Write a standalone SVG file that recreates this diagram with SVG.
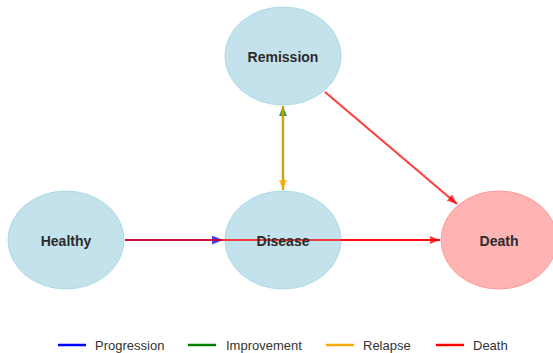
<svg xmlns="http://www.w3.org/2000/svg" width="553" height="353" viewBox="0 0 553 353">
  <style>
    .state { fill: #c4e2ec; stroke: #add8e6; stroke-width: 1; }
    .absorbing { fill: #ffb3b3; stroke: #ff9999; stroke-width: 1; }
    .label { font-family: "Liberation Sans", Arial, sans-serif; font-size: 14px; font-weight: bold; fill: #2b2b2b; text-anchor: middle; dominant-baseline: central; }
    .edge { fill: none; stroke-width: 2.2; stroke-opacity: 0.75; }
    .legend-text { font-family: "Liberation Sans", Arial, sans-serif; font-size: 13px; fill: #333333; dominant-baseline: central; }
    .legend-line { stroke-width: 2.5; }
  </style>
  <defs>
    <marker id="head-blue" viewBox="0 0 10 8" refX="10" refY="4" markerWidth="11" markerHeight="9" markerUnits="userSpaceOnUse" orient="auto">
      <path d="M0,0 L10,4 L0,8 Z" fill="#0000ff" fill-opacity="0.75"/>
    </marker>
    <marker id="head-green" viewBox="0 0 10 8" refX="10" refY="4" markerWidth="10" markerHeight="8" markerUnits="userSpaceOnUse" orient="auto">
      <path d="M0,0 L10,4 L0,8 Z" fill="#008000" fill-opacity="0.75"/>
    </marker>
    <marker id="head-orange" viewBox="0 0 10 8" refX="10" refY="4" markerWidth="10" markerHeight="8" markerUnits="userSpaceOnUse" orient="auto">
      <path d="M0,0 L10,4 L0,8 Z" fill="#ffa500" fill-opacity="0.75"/>
    </marker>
    <marker id="head-red" viewBox="0 0 10 8" refX="10" refY="4" markerWidth="10" markerHeight="8" markerUnits="userSpaceOnUse" orient="auto">
      <path d="M0,0 L10,4 L0,8 Z" fill="#ff0000" fill-opacity="0.75"/>
    </marker>
  </defs>

  <!-- states -->
  <g id="node-healthy">
    <ellipse class="state" cx="66" cy="240" rx="58" ry="49"/>
    <text class="label" x="66" y="241">Healthy</text>
  </g>
  <g id="node-disease">
    <ellipse class="state" cx="283" cy="240" rx="58" ry="49"/>
  </g>
  <g id="node-remission">
    <ellipse class="state" cx="283" cy="56" rx="58" ry="49"/>
    <text class="label" x="283" y="57">Remission</text>
  </g>
  <g id="node-death">
    <ellipse class="absorbing" cx="499" cy="240" rx="58" ry="49"/>
    <text class="label" x="499" y="241">Death</text>
  </g>

  <!-- transitions -->
  <g id="edges">
    <line class="edge" stroke="#0000ff" x1="125" y1="240" x2="223" y2="240" marker-end="url(#head-blue)"/>
    <line class="edge" stroke="#008000" x1="283" y1="190" x2="283" y2="106" marker-end="url(#head-green)"/>
    <line class="edge" stroke="#ffa500" x1="283" y1="106" x2="283" y2="190" marker-end="url(#head-orange)"/>
    <line class="edge" stroke="#ff0000" x1="125" y1="240" x2="440" y2="240" marker-end="url(#head-red)"/>
    <line class="edge" stroke="#ff0000" x1="341" y1="240" x2="440" y2="240"/>
    <line class="edge" stroke="#ff0000" x1="325" y1="92" x2="457" y2="204" marker-end="url(#head-red)"/>
  </g>

  <!-- label drawn above the crossing edge -->
  <text class="label" x="283" y="241">Disease</text>

  <!-- legend -->
  <g id="legend">
    <line class="legend-line" stroke="#0000ff" x1="58" y1="345" x2="86" y2="345"/>
    <text class="legend-text" x="95" y="345">Progression</text>
    <line class="legend-line" stroke="#008000" x1="188" y1="345" x2="216" y2="345"/>
    <text class="legend-text" x="226" y="345">Improvement</text>
    <line class="legend-line" stroke="#ffa500" x1="326" y1="345" x2="354" y2="345"/>
    <text class="legend-text" x="363" y="345">Relapse</text>
    <line class="legend-line" stroke="#ff0000" x1="436" y1="345" x2="464" y2="345"/>
    <text class="legend-text" x="473" y="345">Death</text>
  </g>
</svg>
